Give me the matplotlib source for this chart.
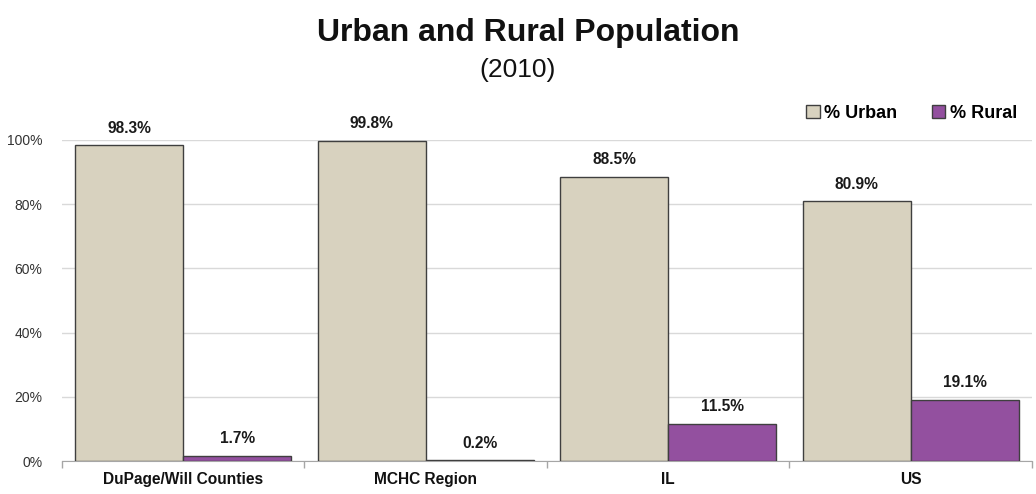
import matplotlib
matplotlib.use("Agg")
import matplotlib.pyplot as plt
import numpy as np

categories = ["DuPage/Will Counties", "MCHC Region", "IL", "US"]
urban = [98.3, 99.8, 88.5, 80.9]
rural = [1.7, 0.2, 11.5, 19.1]
yticks = [0, 20, 40, 60, 80, 100]

plt.rcParams['font.family'] = ['Liberation Sans', 'DejaVu Sans']

fig = plt.figure(figsize=(10.36, 4.94), dpi=100)
ax = fig.add_axes([0.0598, 0.0668, 0.9362, 0.6498])

x = np.arange(len(categories))
w = 0.445
c_urban = "#D8D2BF"
c_rural = "#93509F"
edge = "#3F3F3F"
b1 = ax.bar(x - w/2, urban, w, color=c_urban, edgecolor=edge, linewidth=1.0, label="% Urban", zorder=3)
b2 = ax.bar(x + w/2, rural, w, color=c_rural, edgecolor=edge, linewidth=1.0, label="% Rural", zorder=3)

for rect, v in zip(b1, urban):
    ax.text(rect.get_x() + rect.get_width()/2, v + 3.0, f"{v:.1f}%", ha="center", va="bottom",
            fontsize=11.2, fontweight="bold", color="#1a1a1a", clip_on=False)
for rect, v in zip(b2, rural):
    ax.text(rect.get_x() + rect.get_width()/2, v + 3.0, f"{v:.1f}%", ha="center", va="bottom",
            fontsize=11.2, fontweight="bold", color="#1a1a1a", clip_on=False)

ax.set_xlim(-0.5, len(categories) - 0.5)
ax.set_ylim(0, 100)
ax.set_yticks(yticks)
ax.set_yticklabels([f"{t}%" for t in yticks], fontsize=10, color="#333333")
ax.yaxis.grid(True, color="#D9D9D9", linewidth=1.0, zorder=0)
ax.tick_params(axis="y", length=0, pad=14)

ax.set_xticks(x)
ax.set_xticklabels(categories, fontsize=11.2, fontweight="bold", color="#111111")
ax.tick_params(axis="x", which="major", length=0, pad=8)
ax.set_xticks(np.arange(-0.5, len(categories)), minor=True)
ax.tick_params(axis="x", which="minor", length=5, color="#A6A6A6", width=1)

for s in ["top", "right", "left"]:
    ax.spines[s].set_visible(False)
ax.spines["bottom"].set_color("#A6A6A6")

leg = ax.legend(loc="center right", bbox_to_anchor=(0.9845, 1.084), ncol=2, frameon=False,
                prop={"weight": "bold", "size": 13}, handlelength=0.75, handleheight=0.75,
                handletextpad=0.25, columnspacing=1.9, borderaxespad=0, borderpad=0)

fig.text(0.5097, 0.934, "Urban and Rural Population", ha="center", va="center",
         fontsize=23, fontweight="bold", color="#111111")
fig.text(0.5, 0.858, "(2010)", ha="center", va="center", fontsize=19, color="#111111")

fig.savefig("out.png", dpi=100)
